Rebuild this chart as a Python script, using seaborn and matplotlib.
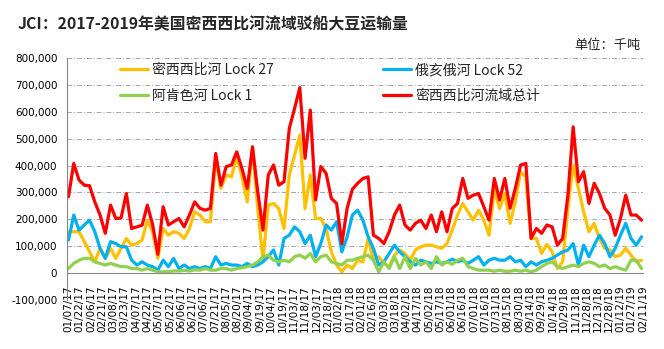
import numpy as np
import pandas as pd
import matplotlib
matplotlib.use('Agg')
import matplotlib.pyplot as plt
import matplotlib.dates as mdates
from matplotlib.ticker import FuncFormatter
import seaborn as sns

# ---------------- data ----------------
dates = pd.date_range('2017-01-07', periods=110, freq='7D')

name_27 = '密西西比河 Lock 27'
name_52 = '俄亥俄河 Lock 52'
name_1 = '阿肯色河 Lock 1'
name_tot = '密西西比河流域总计'

lock27 = [154000, 154000, 154000, 117000, 79000, 42000, 92000, 55000, 92000, 55000,
          92000, 129000, 104000, 110000, 123000, 197000, 154000, 55000, 166000, 141000,
          154000, 148000, 129000, 166000, 228000, 216000, 191000, 191000, 427000, 315000,
          365000, 358000, 433000, 358000, 265000, 464000, 240000, 48000, 253000, 259000,
          240000, 166000, 365000, 439000, 513000, 240000, 365000, 203000, 203000, 166000,
          79000, 30000, 5000, 30000, 17000, 48000, 42000, 129000, 48000, 61000,
          36000, 24000, 67000, 86000, 73000, 48000, 86000, 98000, 104000, 104000,
          98000, 92000, 110000, 160000, 216000, 259000, 228000, 197000, 234000, 197000,
          141000, 309000, 240000, 296000, 185000, 265000, 377000, 358000, 129000, 129000,
          73000, 107000, 79000, 17000, 42000, 240000, 402000, 315000, 228000, 154000,
          185000, 129000, 92000, 86000, 61000, 67000, 92000, 67000, 42000, 48000]

lock52 = [123000, 216000, 160000, 179000, 197000, 154000, 92000, 55000, 117000, 110000,
          98000, 98000, 48000, 30000, 42000, 30000, 24000, 11000, 48000, 24000,
          55000, 17000, 30000, 17000, 24000, 17000, 24000, 17000, 61000, 30000,
          36000, 30000, 30000, 24000, 36000, 24000, 30000, 42000, 61000, 86000,
          30000, 129000, 141000, 172000, 154000, 110000, 141000, 61000, 110000, 179000,
          160000, 191000, 79000, 135000, 216000, 234000, 197000, 135000, 92000, 30000,
          42000, 73000, 104000, 79000, 61000, 42000, 30000, 48000, 42000, 36000,
          42000, 36000, 42000, 52000, 42000, 48000, 36000, 48000, 61000, 30000,
          48000, 55000, 48000, 48000, 61000, 42000, 48000, 24000, 42000, 30000,
          42000, 48000, 55000, 67000, 79000, 86000, 110000, 30000, 104000, 61000,
          104000, 141000, 110000, 61000, 92000, 141000, 185000, 129000, 104000, 135000]

lock1 = [17000, 36000, 48000, 55000, 55000, 42000, 36000, 30000, 36000, 30000,
         24000, 24000, 17000, 17000, 11000, 17000, 11000, 5000, 5000, 5000,
         8000, 8000, 10000, 8000, 12000, 11000, 17000, 11000, 11000, 17000,
         17000, 11000, 17000, 20000, 24000, 30000, 42000, 61000, 67000, 48000,
         42000, 48000, 42000, 61000, 67000, 55000, 73000, 42000, 61000, 67000,
         42000, 36000, 30000, 48000, 48000, 55000, 61000, 67000, 48000, 5000,
         42000, 17000, 61000, 17000, 61000, 17000, 55000, 30000, 42000, 17000,
         61000, 30000, 42000, 33000, 48000, 55000, 24000, 17000, 11000, 11000,
         11000, 7000, 11000, 7000, 7000, 11000, 7000, 11000, 5000, 11000,
         24000, 36000, 42000, 24000, 17000, 24000, 30000, 24000, 36000, 42000,
         36000, 24000, 30000, 17000, 24000, 17000, 11000, 48000, 48000, 17000]

total = [284000, 408000, 346000, 327000, 325000, 265000, 216000, 148000, 253000, 203000,
         205000, 296000, 166000, 172000, 178000, 253000, 180000, 70000, 247000, 179000,
         191000, 203000, 172000, 216000, 265000, 241000, 234000, 241000, 445000, 327000,
         396000, 402000, 451000, 389000, 315000, 470000, 302000, 160000, 365000, 402000,
         327000, 340000, 538000, 612000, 690000, 427000, 606000, 272000, 396000, 371000,
         278000, 259000, 110000, 241000, 312000, 334000, 352000, 358000, 141000, 129000,
         110000, 154000, 216000, 253000, 179000, 160000, 185000, 197000, 166000, 216000,
         154000, 228000, 154000, 240000, 259000, 352000, 278000, 290000, 296000, 247000,
         197000, 352000, 272000, 352000, 241000, 315000, 402000, 408000, 129000, 166000,
         148000, 179000, 172000, 104000, 129000, 290000, 544000, 340000, 377000, 259000,
         334000, 296000, 241000, 216000, 141000, 203000, 290000, 216000, 216000, 197000]

tick_dates = pd.date_range('2017-01-07', '2019-02-16', freq='15D')
y_ticks = list(range(-100000, 800001, 100000))

title = 'JCI：2017-2019年美国密西西比河流域驳船大豆运输量'
unit_text = '单位：千吨'

colors = {name_27: '#FFC000', name_52: '#00B0F0', name_1: '#92D050', name_tot: '#FF0000'}
draw_order = [name_27, name_52, name_1, name_tot]

df = pd.concat([
    pd.DataFrame({'date': dates, 'value': lock27, 'series': name_27}),
    pd.DataFrame({'date': dates, 'value': lock52, 'series': name_52}),
    pd.DataFrame({'date': dates, 'value': lock1, 'series': name_1}),
    pd.DataFrame({'date': dates, 'value': total, 'series': name_tot}),
], ignore_index=True)

# ---------------- style ----------------
sns.set_style('white')
plt.rcParams['font.family'] = ['DejaVu Sans', 'Noto Sans CJK SC']
cjk = ['Noto Sans CJK SC', 'DejaVu Sans']

fig = plt.figure(figsize=(6.64, 3.49), dpi=100)
ax = fig.add_axes([67 / 664, 49 / 349, 576 / 664, 242 / 349])

sns.lineplot(data=df, x='date', y='value', hue='series', hue_order=draw_order,
             palette=colors, linewidth=2.3, ax=ax, legend=True)

ax.set_xlabel('')
ax.set_ylabel('')
ax.set_ylim(-100000, 800000)
ax.set_yticks(y_ticks)
ax.yaxis.set_major_formatter(FuncFormatter(lambda v, p: f'{v:,.0f}'))
ax.set_xlim(dates[0] - pd.Timedelta(days=2), dates[-1] + pd.Timedelta(days=1))
ax.set_xticks(tick_dates)
ax.xaxis.set_major_formatter(mdates.DateFormatter('%m/%d/%y'))

for s in ['top', 'right']:
    ax.spines[s].set_visible(False)
ax.spines['bottom'].set_position(('data', 0))
for s in ['left', 'bottom']:
    ax.spines[s].set_color('#868686')
    ax.spines[s].set_linewidth(0.8)

ax.tick_params(axis='x', direction='out', length=4, width=0.8, color='#868686',
               labelsize=7.5, pad=5, labelrotation=90, labelcolor='#000000')
ax.tick_params(axis='y', direction='out', length=4, width=0.8, color='#868686',
               labelsize=7.5, pad=3, labelcolor='#000000')

ax.grid(axis='y', color='#A6A6A6', linestyle=(0, (5, 2, 1, 2)), linewidth=0.7)
ax.grid(axis='x', visible=False)
ax.set_axisbelow(True)
gl = ax.yaxis.get_gridlines()
gl[0].set_visible(False)

# legend
handles, labels = ax.get_legend_handles_labels()
hmap = dict(zip(labels, handles))
leg_order = [name_27, name_1, name_52, name_tot]
leg = ax.legend([hmap[n] for n in leg_order], leg_order, ncol=2, loc='upper left',
                bbox_to_anchor=(120 / 664, 1 - 63 / 349), bbox_transform=fig.transFigure,
                frameon=False, prop={'family': cjk, 'size': 10},
                handlelength=2.0, handletextpad=0.3, columnspacing=7.9,
                labelspacing=0.85, borderpad=0, borderaxespad=0)
for line in leg.get_lines():
    line.set_linewidth(2.3)

fig.text(18 / 664, 1 - 24 / 349, title, fontsize=11.4, fontweight='bold',
         family=cjk, va='center', ha='left')
fig.text(641 / 664, 1 - 45 / 349, unit_text, fontsize=9.5, family=cjk,
         va='center', ha='right')

fig.savefig('out.png', dpi=100)
